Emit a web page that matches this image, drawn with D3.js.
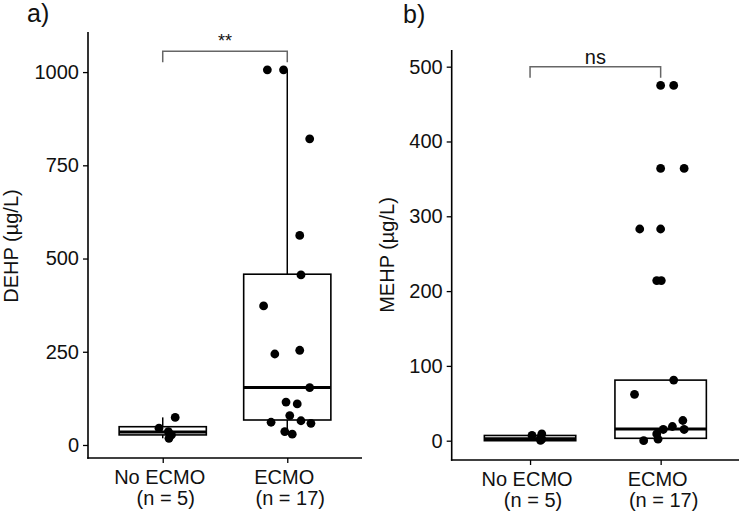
<!DOCTYPE html>
<html>
<head>
<meta charset="utf-8">
<script src="https://cdn.jsdelivr.net/npm/d3@7"></script>
<style>
  html, body { margin: 0; padding: 0; background: #fff; }
  svg { display: block; font-family: "Liberation Sans", Arial, sans-serif; }
</style>
</head>
<body>
<svg id="chart" width="740" height="514"></svg>
<script>
// ---------- data ----------
const categories = ["No ECMO", "ECMO"];
const categoryLine1 = ["No ECMO", "ECMO"];
const categoryLine2 = ["(n = 5)", "(n = 17)"];

// DEHP (µg/L)
const dehpTicks = [0, 250, 500, 750, 1000];
const dehpNoEcmo = [74, 45, 36, 27, 18];
const dehpNoEcmoJitter = [0.10, -0.03, 0.045, 0.07, 0.05];
const dehpEcmo = [1006, 1006, 821, 562, 456, 373, 244, 254, 154, 115, 110, 79, 61, 65, 58, 36, 29];
const dehpEcmoJitter = [-0.16, -0.03, 0.18, 0.10, 0.11, -0.19, -0.10, 0.10, 0.18, -0.01, 0.08, 0.02, -0.13, 0.11, 0.19, -0.02, 0.04];
// box stats: [lower whisker, Q1, median, Q3, upper whisker]
const dehpBoxNoEcmo = [18, 27, 35, 49, 74];
const dehpBoxEcmo = [29, 67, 154, 458, 1006];
const dehpSignif = "**";

// MEHP (µg/L)
const mehpTicks = [0, 100, 200, 300, 400, 500];
const mehpNoEcmo = [9, 7, 4, 2, 0.5];
const mehpNoEcmoJitter = [0.09, 0.015, 0.08, 0.09, 0.08];
const mehpEcmo = [475, 475, 364, 364, 283, 283, 214, 214, 81, 62, 27, 19, 15, 15, 9, 2, 0];
const mehpEcmoJitter = [0.0, 0.10, 0.0, 0.18, -0.16, 0.0, -0.03, 0.005, 0.10, -0.20, 0.17, 0.09, 0.02, 0.18, -0.03, -0.02, -0.13];
const mehpBoxNoEcmo = [0, 0, 2.5, 7, 9];
const mehpBoxEcmo = [0, 3.2, 15.6, 81, 81];
const mehpSignif = "ns";

// ---------- drawing ----------
const svg = d3.select("#chart");

function drawPanel(p) {
  const g = svg.append("g");
  const x = d3.scalePoint().domain(categories).range([p.x0, p.x1]).padding(0.6);
  const y = d3.scaleLinear().domain(p.yDomain).range([p.yBottom, p.yTop]);
  const boxW = x.step() * 0.7;

  // axes
  const yAxis = g.append("g")
    .attr("transform", `translate(${p.x0},0)`)
    .call(d3.axisLeft(y).tickValues(p.ticks).tickSize(5).tickPadding(4).tickFormat(d3.format("d")));
  const xAxis = g.append("g")
    .attr("transform", `translate(0,${p.yBottom})`)
    .call(d3.axisBottom(x).tickSize(5).tickFormat(() => ""));
  [yAxis, xAxis].forEach(a => {
    a.selectAll(".tick line").attr("stroke", "#000").attr("stroke-width", 1.3);
    a.select(".domain").remove();
  });
  g.append("line").attr("x1", p.x0).attr("x2", p.x0).attr("y1", p.yTop).attr("y2", p.yBottom + 0.8)
    .attr("stroke", "#000").attr("stroke-width", 1.6);
  g.append("line").attr("x1", p.x0 - 0.8).attr("x2", p.x1).attr("y1", p.yBottom).attr("y2", p.yBottom)
    .attr("stroke", "#000").attr("stroke-width", 1.6);

  yAxis.selectAll(".tick text").attr("font-size", 20).attr("fill", "#111")
    .attr("font-family", "'Liberation Sans', Arial, sans-serif");

  // x labels (two lines)
  categories.forEach((c, i) => {
    const t = g.append("text").attr("text-anchor", "middle").attr("font-size", 20).attr("fill", "#111");
    t.append("tspan").attr("x", x(c) - 3).attr("y", p.yBottom + 26).text(categoryLine1[i]);
    t.append("tspan").attr("x", x(c) + 3).attr("y", p.yBottom + 47).text(categoryLine2[i]);
  });

  // y title
  g.append("text")
    .attr("transform", `translate(${p.titleX},${p.titleY}) rotate(-90)`)
    .attr("text-anchor", "middle").attr("font-size", 20).attr("fill", "#111")
    .text(p.title);

  // panel letter
  g.append("text").attr("x", p.letterX).attr("y", p.letterY)
    .attr("font-size", 25).attr("fill", "#111").text(p.letter);

  // boxes
  const boxes = [p.boxNo, p.boxYes];
  boxes.forEach((b, i) => {
    const cx = x(categories[i]);
    const [lo, q1, med, q3, hi] = b;
    if (hi > q3) g.append("line").attr("x1", cx).attr("x2", cx).attr("y1", y(q3)).attr("y2", y(hi))
      .attr("stroke", "#000").attr("stroke-width", 1.5);
    if (lo < q1) g.append("line").attr("x1", cx).attr("x2", cx).attr("y1", y(q1)).attr("y2", y(lo))
      .attr("stroke", "#000").attr("stroke-width", 1.5);
    g.append("rect").attr("x", cx - boxW / 2).attr("width", boxW)
      .attr("y", y(q3)).attr("height", Math.max(0, y(q1) - y(q3)))
      .attr("fill", "#fff").attr("stroke", "#000").attr("stroke-width", 1.6);
    g.append("line").attr("x1", cx - boxW / 2).attr("x2", cx + boxW / 2)
      .attr("y1", y(med)).attr("y2", y(med)).attr("stroke", "#000").attr("stroke-width", 3);
  });

  // points
  const series = [[p.ptsNo, p.jitNo], [p.ptsYes, p.jitYes]];
  series.forEach(([vals, jit], i) => {
    const cx = x(categories[i]);
    g.selectAll(null).data(vals).join("circle")
      .attr("cx", (d, j) => cx + jit[j] * x.step())
      .attr("cy", d => y(d))
      .attr("r", 4.4).attr("fill", "#000");
  });

  // significance bracket
  const bx1 = x(categories[0]), bx2 = x(categories[1]);
  const by = y(p.bracketVal), byDown = y(p.bracketVal) + 11;
  g.append("path")
    .attr("d", `M${bx1},${byDown}V${by}H${bx2}V${byDown}`)
    .attr("fill", "none").attr("stroke", "#666").attr("stroke-width", 1.5);
  g.append("text").attr("x", (bx1 + bx2) / 2).attr("y", by - p.signifGap)
    .attr("text-anchor", "middle").attr("font-size", p.signifSize).attr("fill", "#111")
    .text(p.signif);
}

drawPanel({
  x0: 88, x1: 362, yTop: 32, yBottom: 458, yDomain: [-34.9, 1107.5],
  ticks: dehpTicks, title: "DEHP (µg/L)", titleX: 17.5, titleY: 246,
  letter: "a)", letterX: 27, letterY: 22,
  boxNo: dehpBoxNoEcmo, boxYes: dehpBoxEcmo,
  ptsNo: dehpNoEcmo, jitNo: dehpNoEcmoJitter, ptsYes: dehpEcmo, jitYes: dehpEcmoJitter,
  bracketVal: 1056, signif: dehpSignif, signifSize: 18, signifGap: 4
});

drawPanel({
  x0: 451.7, x1: 739, yTop: 50, yBottom: 460, yDomain: [-25.8, 522.3],
  ticks: mehpTicks, title: "MEHP (µg/L)", titleX: 394, titleY: 255,
  letter: "b)", letterX: 403, letterY: 23,
  boxNo: mehpBoxNoEcmo, boxYes: mehpBoxEcmo,
  ptsNo: mehpNoEcmo, jitNo: mehpNoEcmoJitter, ptsYes: mehpEcmo, jitYes: mehpEcmoJitter,
  bracketVal: 500, signif: mehpSignif, signifSize: 20, signifGap: 3
});
</script>
</body>
</html>
